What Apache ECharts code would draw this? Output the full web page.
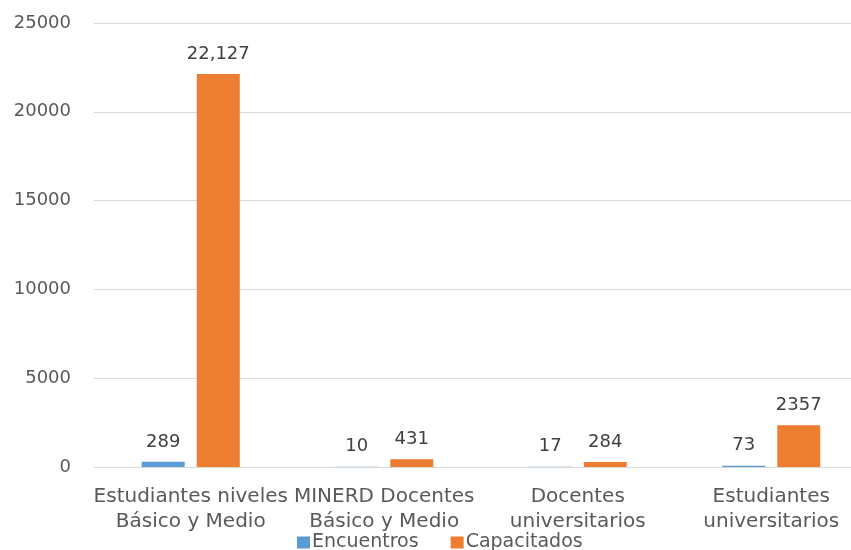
<!DOCTYPE html>
<html><head><meta charset="utf-8">
<script src="https://cdn.jsdelivr.net/npm/echarts@6/dist/echarts.min.js"></script>
<style>html,body{margin:0;padding:0;background:#fff;overflow:hidden;width:851px;height:550px}#c{width:868px;height:550px}</style>
</head><body><div id="c"></div>
<script>
const categories = ['Estudiantes niveles\nBásico y Medio', 'MINERD Docentes\nBásico y Medio', 'Docentes\nuniversitarios', 'Estudiantes\nuniversitarios'];
const encuentros = [289, 10, 17, 73];
const capacitados = [22127, 431, 284, 2357];
const encuentrosLabels = ['289', '10', '17', '73'];
const capacitadosLabels = ['22,127', '431', '284', '2357'];
const yTicks = [0, 5000, 10000, 15000, 20000, 25000];
const font = 'DejaVu Sans';
const chart = echarts.init(document.getElementById('c'));
chart.setOption({
  animation: false,
  textStyle: { fontFamily: font },
  grid: { left: 94, right: 0, top: 23, bottom: 83, containLabel: false },
  legend: {
    bottom: -7, left: 292, itemWidth: 13, itemHeight: 12, itemGap: 32,
    icon: 'rect',
    textStyle: { fontFamily: font, fontSize: 19, color: '#595959', padding: [0, 0, 0, -3] },
    data: ['Encuentros', 'Capacitados']
  },
  xAxis: {
    type: 'category', data: categories,
    axisLine: { lineStyle: { color: '#d9d9d9' } },
    axisTick: { show: false },
    axisLabel: { fontFamily: font, fontSize: 20, color: '#595959', lineHeight: 25, margin: 17, interval: 0 }
  },
  yAxis: {
    type: 'value', min: yTicks[0], max: yTicks[yTicks.length - 1], interval: 5000,
    axisLine: { show: false }, axisTick: { show: false },
    splitLine: { lineStyle: { color: '#d9d9d9' } },
    axisLabel: { fontFamily: font, fontSize: 18, color: '#595959', margin: 23, formatter: v => String(v) }
  },
  series: [
    {
      name: 'Encuentros', type: 'bar', data: encuentros, barWidth: 43, barGap: '28%',
      itemStyle: { color: '#5B9BD5' },
      label: { show: true, position: 'top', distance: 11, fontFamily: font, fontSize: 18, color: '#404040',
        formatter: p => encuentrosLabels[p.dataIndex] }
    },
    {
      name: 'Capacitados', type: 'bar', data: capacitados, barWidth: 43,
      itemStyle: { color: '#ED7D31' },
      label: { show: true, position: 'top', distance: 11, fontFamily: font, fontSize: 18, color: '#404040',
        formatter: p => capacitadosLabels[p.dataIndex] }
    }
  ]
});
</script></body></html>
